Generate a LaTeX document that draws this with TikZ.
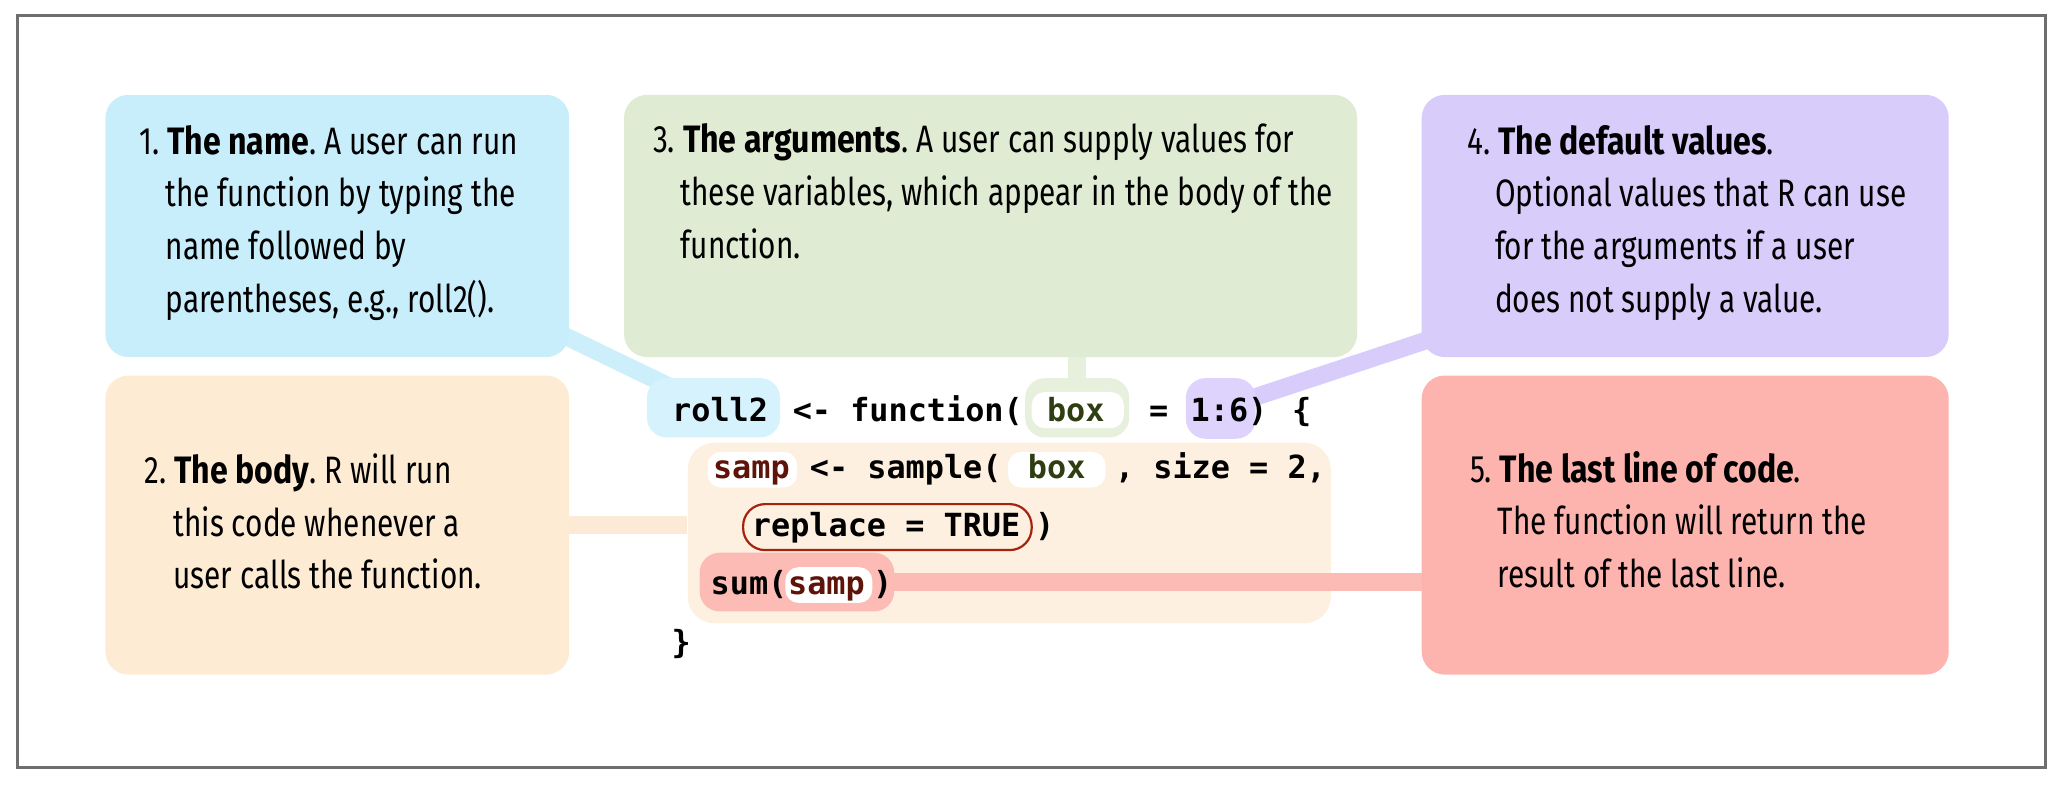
\documentclass[tikz,border=0pt]{standalone}
\usepackage{fontspec}
\setmainfont{Fira Sans}[FakeStretch=0.78, BoldFeatures={FakeStretch=0.84}]
\newfontfamily\codefont{DejaVu Sans Mono}
\usetikzlibrary{fit,positioning}
\frenchspacing

\pgfdeclarelayer{back}
\pgfdeclarelayer{links}
\pgfsetlayers{back,links,main}

\definecolor{framecol}{HTML}{6E6E6E}
\definecolor{namecol}{HTML}{C8EEFC}
\definecolor{namelight}{HTML}{D5F2FD}
\definecolor{namelink}{HTML}{CDEFFC}
\definecolor{bodycol}{HTML}{FDEBD4}
\definecolor{bodylink}{HTML}{FDEAD6}
\definecolor{codebg}{HTML}{FEF0E0}
\definecolor{argscol}{HTML}{E0EBD3}
\definecolor{argslight}{HTML}{E6F0DC}
\definecolor{defscol}{HTML}{D8CCFB}
\definecolor{defslight}{HTML}{DDD3FC}
\definecolor{lastcol}{HTML}{FDB3AE}
\definecolor{lastlight}{HTML}{FDBBB6}
\definecolor{sampred}{HTML}{5E1409}
\definecolor{boxgreen}{HTML}{2E3E12}
\definecolor{outlinered}{HTML}{A3230F}

\newcommand{\calltext}[2]{\parbox[t]{200pt}{\frenchspacing\hangindent=#1\hangafter=1 #2}}

\tikzset{
  callout/.style={rounded corners=5.25pt, inner sep=0pt},
  note/.style={anchor=base west, inner sep=0pt, font=\fontsize{8.7}{12}\selectfont},
  code/.style={anchor=base west, inner sep=0pt, font={\codefont\bfseries\fontsize{7.25}{9}\selectfont}},
  hl/.style={rounded corners=4.5pt, inner sep=0pt},
  hole/.style={rounded corners=3pt, inner sep=0pt, fill=white},
  link/.style={line width=4pt},
}

\begin{document}
\begin{tikzpicture}[x=0.3pt, y=-0.3pt]
  \useasboundingbox (0,0) rectangle (1568,598);
  \draw[framecol, line width=0.6pt] (13.4,12) rectangle (1552.5,582.7);

  % the five callouts
  \node[callout, fill=namecol, fit={(80,72) (432,271)}] (name) {};
  \node[callout, fill=argscol, fit={(473.6,72) (1030,271)}] (args) {};
  \node[callout, fill=defscol, fit={(1079,72) (1479,271)}] (defaults) {};
  \node[callout, fill=bodycol, fit={(80,285) (432,512)}] (body) {};
  \node[callout, fill=lastcol, fit={(1079,285) (1479,512)}] (last) {};

  \node[note] (nametxt) at (105,117) {\calltext{6pt}{1. \textbf{The name}. A user can run\newline the function by typing the\newline name followed by\newline parentheses, e.g., roll2().}};
  \node[note] (argstxt) at (495,116) {\calltext{6.3pt}{3. \textbf{The arguments}. A user can supply values for\newline these variables, which appear in the body of the\newline function.}};
  \node[note] (defaultstxt) at (1113,117) {\calltext{6.3pt}{4. \textbf{The default values}.\newline Optional values that R can use\newline for the arguments if a user\newline does not supply a value.}};
  \node[note] (bodytxt) at (109,367) {\calltext{6.6pt}{2. \textbf{The body}. R will run\newline this code whenever a\newline user calls the function.}};
  \node[note] (lasttxt) at (1115,366) {\calltext{6.3pt}{5. \textbf{The last line of code}.\newline The function will return the\newline result of the last line.}};

  % the code
  \begin{pgfonlayer}{back}
    \node[fill=codebg, rounded corners=6pt, inner sep=0pt, fit={(522,336) (1010,473)}] (bodycode) {};
  \end{pgfonlayer}

  \node[hl, fill=namelight, fit={(491,287) (592,332)}] (rollhl) {};
  \node[code] (rolltxt) at (509.5,320) {roll2};
  \node[code] (fntxt) at (601,320) {<- function(};
  \node[hl, fill=argslight, fit={(778,287) (857,332)}] (boxhl) {};
  \node[hole, fit={(783,297.5) (853,325)}] (boxin) {};
  \node[code, text=boxgreen] (boxtxt) at (794,320) {box};
  \node[code] (eqtxt) at (871.5,320) {=};
  \node[hl, fill=defslight, fit={(900,287) (953,333)}] (sixhl) {};
  \node[code] (sixtxt) at (903,320) {1:6)};
  \node[code] (opentxt) at (980,320) {\{};

  \node[hole, fit={(537,343) (605,370)}] (samphl) {};
  \node[code, text=sampred] (samptxt) at (540.5,363) {samp};
  \node[code] (sampletxt) at (614,363) {<- sample(};
  \node[hole, fit={(765,343) (839,370)}] (boxhltwo) {};
  \node[code, text=boxgreen] (boxtxttwo) at (779.5,363) {box};
  \node[code] (sizetxt) at (845.6,363) {, size = 2,};

  \node[draw=outlinered, line width=0.5pt, rounded corners=5pt, inner sep=0pt, fit={(564,382.6) (783,417.5)}] (replhl) {};
  \node[code] (repltxt) at (570,407) {replace = TRUE};
  \node[code] (closetxt) at (785,407) {)};

  \node[hl, fill=lastlight, fit={(531,419.5) (678.6,464)}] (sumhl) {};
  \node[hole, fit={(596,430.5) (662,457.6)}] (samphltwo) {};
  \node[code] (sumtxt) at (538.7,451) {sum(};
  \node[code, text=sampred] (samptxttwo) at (597.5,451) {samp};
  \node[code] (sumclose) at (662,451) {)};
  \node[code] (endtxt) at (509,496) {\}};

  % links from code to callouts
  \coordinate (defpin) at (1150,236);
  \begin{pgfonlayer}{links}
    \draw[link, namelink] (rollhl.center) -- (name.center);
    \draw[link, argslight] (boxhl.center) -- (boxhl.center |- args.center);
    \draw[link, defscol] (sixhl.center) -- (defpin);
    \draw[link, bodylink] (body.center) -- (body.center -| bodycode.west);
    \draw[link, lastlight] (sumhl.center) -- (sumhl.center -| last.center);
  \end{pgfonlayer}
\end{tikzpicture}
\end{document}
